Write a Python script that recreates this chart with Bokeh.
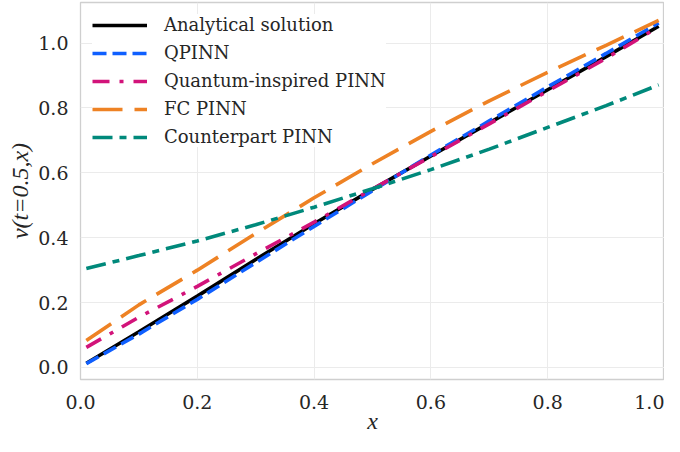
from bokeh.plotting import figure
from bokeh.models import FixedTicker, Range1d, Legend, LegendItem
from bokeh.embed import file_html
from bokeh.resources import INLINE

# ---- data ----
x_vals = [0.01, 0.1, 0.2, 0.3, 0.4, 0.5, 0.6, 0.7, 0.8, 0.9, 0.99]
analytical = [0.013, 0.110, 0.220, 0.333, 0.443, 0.549, 0.652, 0.754, 0.856, 0.958, 1.052]
qpinn = [0.012, 0.103, 0.210, 0.323, 0.435, 0.545, 0.655, 0.760, 0.865, 0.968, 1.062]
quantum_inspired = [0.062, 0.155, 0.250, 0.350, 0.448, 0.550, 0.650, 0.751, 0.852, 0.953, 1.050]
fc_pinn = [0.083, 0.193, 0.300, 0.413, 0.523, 0.628, 0.728, 0.822, 0.910, 0.993, 1.070]
counterpart = [0.305, 0.345, 0.390, 0.440, 0.494, 0.551, 0.610, 0.673, 0.740, 0.807, 0.871]

series_names = ["Analytical solution", "QPINN", "Quantum-inspired PINN", "FC PINN", "Counterpart PINN"]
x_ticks = [0.0, 0.2, 0.4, 0.6, 0.8, 1.0]
x_tick_labels = ["0.0", "0.2", "0.4", "0.6", "0.8", "1.0"]
y_ticks = [0.0, 0.2, 0.4, 0.6, 0.8, 1.0]
y_tick_labels = ["0.0", "0.2", "0.4", "0.6", "0.8", "1.0"]

SERIF = "DejaVu Serif"
TXT = "#262626"

p = figure(width=664, height=436, output_backend="svg", toolbar_location=None,
           x_range=Range1d(0, 1), y_range=Range1d(-0.037, 1.125),
           min_border_left=80, min_border_right=0, min_border_top=2, min_border_bottom=0)

p.background_fill_color = "white"
p.border_fill_color = "white"
p.outline_line_color = "#cfcfcf"
p.outline_line_width = 1.3

p.xgrid.grid_line_color = "#ebebeb"
p.ygrid.grid_line_color = "#ebebeb"
p.xgrid.grid_line_width = 1
p.ygrid.grid_line_width = 1

styles = [
    dict(color="black", line_dash="solid"),
    dict(color="#0f5fff", line_dash="14 6"),
    dict(color="#d2137a", line_dash="17 10 4 10"),
    dict(color="#ee8224", line_dash="30 12"),
    dict(color="#00897b", line_dash="20 7 7 7"),
]
data = [analytical, qpinn, quantum_inspired, fc_pinn, counterpart]

items = []
for name, ys, st in zip(series_names, data, styles):
    r = p.line(x_vals, ys, line_color=st["color"], line_width=3.6, line_dash=st["line_dash"])
    items.append(LegendItem(label=name, renderers=[r]))

legend = Legend(items=items, location="top_left")
legend.margin = 12
legend.padding = 8
legend.spacing = 7
legend.label_height = 18
legend.glyph_height = 18
legend.glyph_width = 55
legend.label_standoff = 17
legend.border_line_color = None
legend.background_fill_color = "white"
legend.background_fill_alpha = 1.0
legend.label_text_font = SERIF
legend.label_text_font_size = "18px"
legend.label_text_color = TXT
p.add_layout(legend)

for ax, ticks, labels in ((p.xaxis, x_ticks, x_tick_labels), (p.yaxis, y_ticks, y_tick_labels)):
    ax.ticker = FixedTicker(ticks=ticks)
    ax.major_label_overrides = {t: l for t, l in zip(ticks, labels)}
    ax.major_tick_line_color = None
    ax.minor_tick_line_color = None
    ax.axis_line_color = None
    ax.major_label_text_font = SERIF
    ax.major_label_text_font_size = "19px"
    ax.major_label_text_color = TXT
    ax.axis_label_text_font = "Liberation Serif"
    ax.axis_label_text_font_style = "italic"
    ax.axis_label_text_font_size = "24px"
    ax.axis_label_text_color = TXT

p.xaxis.axis_label = "x"
p.yaxis.axis_label = "v(t=0.5,x)"
p.xaxis.major_label_standoff = 9
p.yaxis.major_label_standoff = 6
p.xaxis.axis_label_standoff = -4
p.yaxis.axis_label_standoff = 2

open("out.html", "w").write(file_html(p, INLINE))
